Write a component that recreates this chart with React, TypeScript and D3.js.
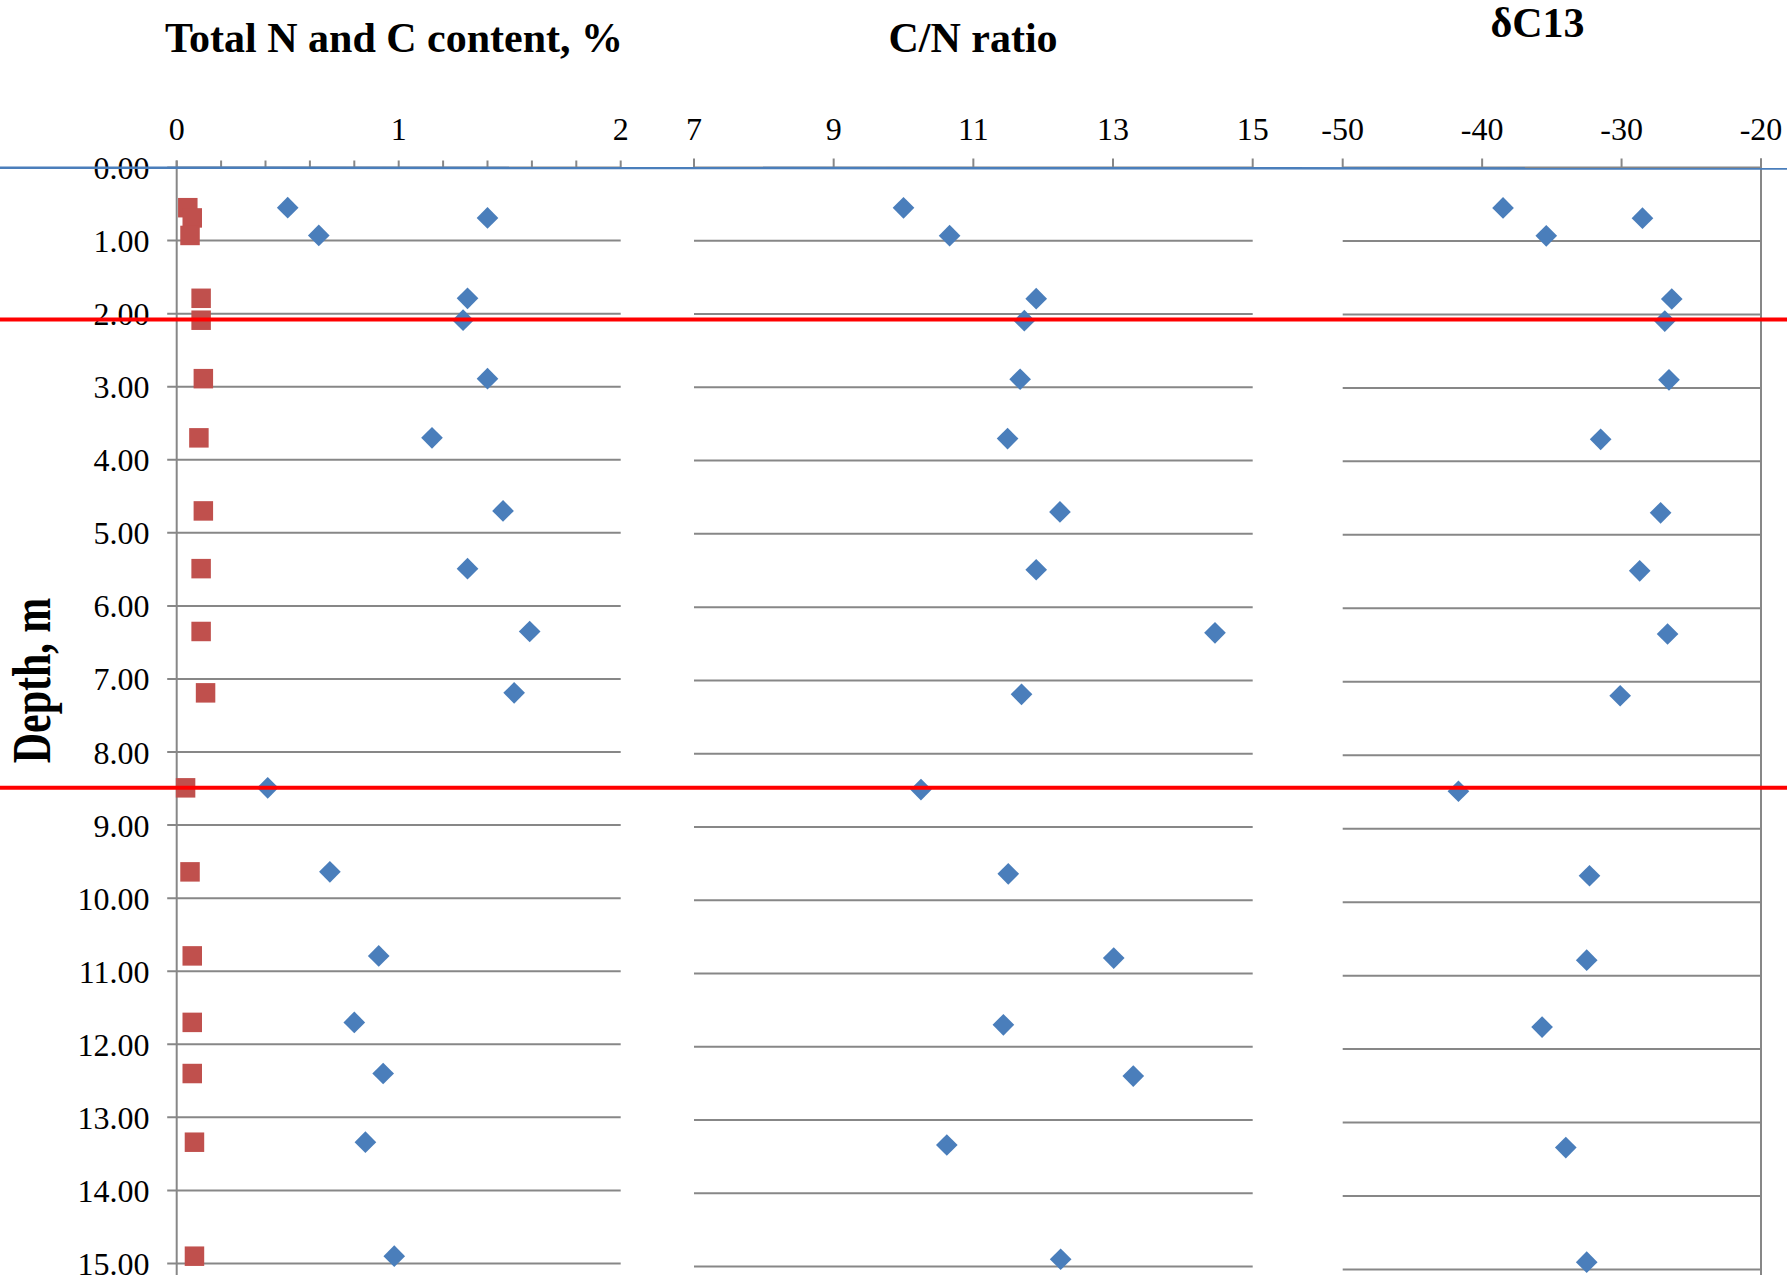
import * as d3 from 'd3';
import React, { useRef, useEffect } from 'react';

// sample depths, m (shared by the three panels)
const depths = [0.55, 0.69, 0.93, 1.79, 2.09, 2.89, 3.70, 4.70, 5.49, 6.35, 7.19, 8.49, 9.64, 10.79, 11.70, 12.40, 13.34, 14.90];
// total C and total N, %
const totalC = [0.50, 1.40, 0.64, 1.31, 1.29, 1.40, 1.15, 1.47, 1.31, 1.59, 1.52, 0.41, 0.69, 0.91, 0.80, 0.93, 0.85, 0.98];
const totalN = [0.05, 0.07, 0.06, 0.11, 0.11, 0.12, 0.10, 0.12, 0.11, 0.11, 0.13, 0.04, 0.06, 0.07, 0.07, 0.07, 0.08, 0.08];
// C/N ratio (no value at 0.69 m)
const cnRatio = [10.00, null, 10.66, 11.90, 11.73, 11.67, 11.49, 12.24, 11.90, 14.46, 11.69, 10.25, 11.50, 13.01, 11.43, 13.29, 10.62, 12.25];
// delta C13 (no value at 12.40 m)
const deltaC13 = [-38.5, -28.5, -35.4, -26.4, -26.9, -26.6, -31.5, -27.2, -28.7, -26.7, -30.1, -41.7, -32.3, -32.5, -35.7, null, -34.0, -32.5];

const depthTicks = [0, 1, 2, 3, 4, 5, 6, 7, 8, 9, 10, 11, 12, 13, 14, 15];
const contentTicks = [0, 1, 2];
const contentMinorTicks = [0, 0.2, 0.4, 0.6, 0.8, 1, 1.2, 1.4, 1.6, 1.8, 2];
const ratioTicks = [7, 9, 11, 13, 15];
const deltaTicks = [-50, -40, -30, -20];
const boundaryDepths = [2.08, 8.49];

function DepthProfiles({ width, height }) {
    const ref = useRef();

    useEffect(() => {
        let svg = d3.select(ref.current);
        svg.selectAll('*').remove();
        draw();
    }, []);

    const draw = () => {
        const svg = d3.select(ref.current);
        const font = '"Liberation Serif", "Times New Roman", serif';
        const gridColor = '#878787';
        const blue = '#4A7EBB', red = '#C0504D';

        const panels = [
            {
                x: d3.scaleLinear().domain([0, 2]).range([176.7, 620.7]),
                y: d3.scaleLinear().domain([0, 15]).range([167.5, 1263.5]),
                ticks: contentMinorTicks, labels: contentTicks, tickLen: 7, gridStart: -9.5,
                title: 'Total N and C content, %', titleX: 394, titleY: 52
            },
            {
                x: d3.scaleLinear().domain([7, 15]).range([694, 1252.7]),
                y: d3.scaleLinear().domain([0, 15]).range([167.5, 1266.6]),
                ticks: ratioTicks, labels: ratioTicks, tickLen: 9, gridStart: 0,
                title: 'C/N ratio', titleX: 973, titleY: 52
            },
            {
                x: d3.scaleLinear().domain([-50, -20]).range([1342.7, 1761]),
                y: d3.scaleLinear().domain([0, 15]).range([167.5, 1269.5]),
                ticks: deltaTicks, labels: deltaTicks, tickLen: 9, gridStart: 0,
                title: 'δC13', titleX: 1537.5, titleY: 37
            }
        ];

        panels.forEach(p => {
            const g = svg.append('g');
            const [x0, x1] = p.x.range();

            // horizontal gridlines
            g.selectAll('.grid')
                .data(depthTicks)
                .enter()
                .append('line')
                .attr('x1', x0 + p.gridStart)
                .attr('x2', x1)
                .attr('y1', d => p.y(d))
                .attr('y2', d => p.y(d))
                .attr('stroke', gridColor)
                .attr('stroke-width', 2);

            // top axis ticks
            g.selectAll('.tick')
                .data(p.ticks)
                .enter()
                .append('line')
                .attr('x1', d => p.x(d))
                .attr('x2', d => p.x(d))
                .attr('y1', p.y(0))
                .attr('y2', p.y(0) - p.tickLen)
                .attr('stroke', gridColor)
                .attr('stroke-width', 2);

            g.selectAll('.tickLabel')
                .data(p.labels)
                .enter()
                .append('text')
                .attr('x', d => p.x(d))
                .attr('y', 140)
                .attr('text-anchor', 'middle')
                .attr('font-family', font)
                .attr('font-size', 32)
                .attr('fill', '#000')
                .text(d => String(d));

            g.append('text')
                .attr('x', p.titleX)
                .attr('y', p.titleY)
                .attr('text-anchor', 'middle')
                .attr('font-family', font)
                .attr('font-size', 42)
                .attr('font-weight', 'bold')
                .attr('fill', '#000')
                .text(p.title);
        });

        const [pc, pr, pd] = panels;

        // vertical axes: left of the first panel, right of the last
        svg.append('line')
            .attr('x1', pc.x(0)).attr('x2', pc.x(0))
            .attr('y1', pc.y(0) - pc.tickLen).attr('y2', pc.y(15.5))
            .attr('stroke', gridColor).attr('stroke-width', 2);
        svg.append('line')
            .attr('x1', pd.x(-20)).attr('x2', pd.x(-20))
            .attr('y1', pd.y(0) - pd.tickLen).attr('y2', pd.y(15.5))
            .attr('stroke', gridColor).attr('stroke-width', 2);

        // depth labels
        svg.selectAll('.depthLabel')
            .data(depthTicks)
            .enter()
            .append('text')
            .attr('x', 149.5)
            .attr('y', d => pc.y(d) + 11.5)
            .attr('text-anchor', 'end')
            .attr('font-family', font)
            .attr('font-size', 32)
            .attr('fill', '#000')
            .text(d => d.toFixed(2));

        svg.append('text')
            .attr('transform', 'translate(50,680.5) rotate(-90) scale(1,1.3)')
            .attr('text-anchor', 'middle')
            .attr('font-family', font)
            .attr('font-size', 42)
            .attr('font-weight', 'bold')
            .attr('fill', '#000')
            .text('Depth, m');

        const diamond = d3.symbol().type(d3.symbolSquare).size(235);
        const square = d3.symbol().type(d3.symbolSquare).size(380);

        const rows = depths.map((d, i) => ({ depth: d, c: totalC[i], n: totalN[i], cn: cnRatio[i], dc: deltaC13[i] }));

        svg.selectAll('.nMark')
            .data(rows)
            .enter()
            .append('path')
            .attr('d', square())
            .attr('transform', d => `translate(${pc.x(d.n)},${pc.y(d.depth)})`)
            .attr('fill', red);

        svg.selectAll('.cMark')
            .data(rows)
            .enter()
            .append('path')
            .attr('d', diamond())
            .attr('transform', d => `translate(${pc.x(d.c)},${pc.y(d.depth)}) rotate(45)`)
            .attr('fill', blue);

        svg.selectAll('.cnMark')
            .data(rows.filter(d => d.cn != null))
            .enter()
            .append('path')
            .attr('d', diamond())
            .attr('transform', d => `translate(${pr.x(d.cn)},${pr.y(d.depth)}) rotate(45)`)
            .attr('fill', blue);

        svg.selectAll('.dcMark')
            .data(rows.filter(d => d.dc != null))
            .enter()
            .append('path')
            .attr('d', diamond())
            .attr('transform', d => `translate(${pd.x(d.dc)},${pd.y(d.depth)}) rotate(45)`)
            .attr('fill', blue);

        // surface line and layer boundaries across the whole figure
        svg.append('line')
            .attr('x1', 0).attr('x2', width)
            .attr('y1', pc.y(0) + 0.2).attr('y2', pc.y(0) + 1)
            .attr('stroke', blue).attr('stroke-width', 2.5);

        svg.selectAll('.boundary')
            .data(boundaryDepths)
            .enter()
            .append('line')
            .attr('x1', 0).attr('x2', width)
            .attr('y1', d => pc.y(d)).attr('y2', d => pc.y(d))
            .attr('stroke', '#FF0000')
            .attr('stroke-width', 4);
    };

    return (
        <svg ref={ref} width={width} height={height} style={{ display: 'block', background: '#fff' }}></svg>
    );
}

export default function App() {
    return (
        <div style={{ position: 'absolute', left: 0, top: 0, background: '#fff' }}>
            <DepthProfiles width={1787} height={1275} />
        </div>
    );
}
